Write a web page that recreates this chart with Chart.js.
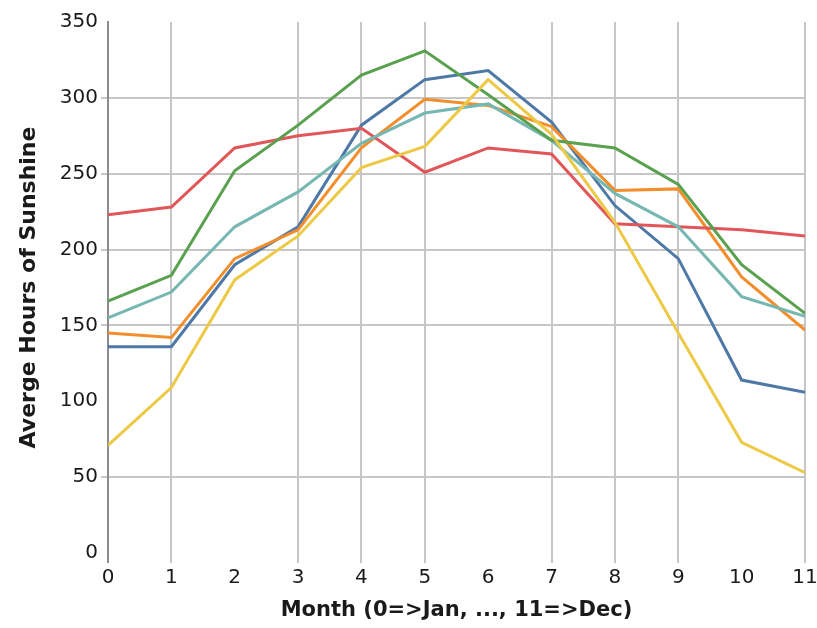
<!DOCTYPE html>
<html>
<head>
<meta charset="utf-8">
<script src="https://cdn.jsdelivr.net/npm/chart.js@4/dist/chart.umd.min.js"></script>
<style>
  html, body { margin: 0; padding: 0; background: #fff; }
  #wrap { width: 817px; height: 628px; }
</style>
</head>
<body>
<div id="wrap"><canvas id="chart" width="817" height="628"></canvas></div>
<script>
// Data
const months = [0, 1, 2, 3, 4, 5, 6, 7, 8, 9, 10, 11];
const blueSeries   = [136, 136, 190, 215, 282, 312, 318, 284, 229, 194, 114, 106];
const orangeSeries = [145, 142, 194, 213, 267, 299, 295, 281, 239, 240, 182, 147];
const redSeries    = [223, 228, 267, 275, 280, 251, 267, 263, 217, 215, 213, 209];
const tealSeries   = [155, 172, 215, 238, 270, 290, 296, 272, 237, 215, 169, 156];
const greenSeries  = [166, 183, 252, 282, 315, 331, 302, 272, 267, 243, 190, 158];
const yellowSeries = [71, 109, 180, 209, 254, 268, 312, 276, 218, 145, 73, 53];
const yTicks = [0, 50, 100, 150, 200, 250, 300, 350];

// gridlines that are absent in the reference
const hiddenX = [2, 6, 10];
const hiddenY = [0, 100, 350];

const Theme = {
    blue: '#4e79a7',
    orange: '#f28e2b',
    red: '#e15759',
    teal: '#76b7b2',
    green: '#59a14f',
    yellow: '#edc948',
    grid: '#c6c6c6',
    axis: '#8c8c8c',
    text: '#1a1a1a'
};

function toPoints(values) {
    return values.map((v, i) => ({ x: months[i], y: v }));
}

function tickValue(ctx) {
    const t = ctx.tick || (ctx.scale && ctx.scale.ticks[ctx.index]);
    return t ? Math.round(t.value) : null;
}

// width 0 skips the line (and its tick mark) entirely
const xGridWidth = ctx => hiddenX.includes(tickValue(ctx)) ? 0 : 2;
const yGridWidth = ctx => hiddenY.includes(tickValue(ctx)) ? 0 : 2;

// first dataset is drawn on top in Chart.js, so list them top-down
const seriesList = [
    { data: yellowSeries, color: Theme.yellow },
    { data: greenSeries,  color: Theme.green },
    { data: tealSeries,   color: Theme.teal },
    { data: redSeries,    color: Theme.red },
    { data: orangeSeries, color: Theme.orange },
    { data: blueSeries,   color: Theme.blue }
];

new Chart(document.getElementById('chart'), {
    type: 'line',
    data: {
        datasets: seriesList.map(s => ({
            data: toPoints(s.data),
            borderColor: s.color,
            backgroundColor: s.color,
            borderWidth: 3,
            pointRadius: 0,
            tension: 0,
            fill: false
        }))
    },
    options: {
        responsive: false,
        animation: false,
        layout: { padding: { top: 22, right: 12, left: 0, bottom: 0 } },
        plugins: { legend: { display: false }, tooltip: { enabled: false } },
        scales: {
            x: {
                type: 'linear',
                min: 0,
                max: 11,
                afterFit: scale => {
                    scale.height = 75;
                    scale.paddingLeft = 0;
                    scale.paddingRight = 0;
                },
                ticks: {
                    stepSize: 1,
                    color: Theme.text,
                    font: { family: 'DejaVu Sans', size: 20 },
                    padding: 3,
                    maxRotation: 0
                },
                grid: {
                    lineWidth: xGridWidth,
                    tickWidth: xGridWidth,
                    tickLength: 10,
                    color: ctx => tickValue(ctx) === 0 ? Theme.axis : Theme.grid
                },
                border: { display: false },
                title: {
                    display: true,
                    text: 'Month (0=>Jan, ..., 11=>Dec)',
                    color: Theme.text,
                    font: { family: 'DejaVu Sans', size: 21, weight: 'bold' },
                    padding: { top: 0, bottom: 5 }
                }
            },
            y: {
                min: 0,
                max: 350,
                afterFit: scale => { scale.width = 108; },
                afterBuildTicks: scale => { scale.ticks = yTicks.map(v => ({ value: v })); },
                ticks: {
                    color: Theme.text,
                    font: { family: 'DejaVu Sans', size: 20 },
                    padding: 3
                },
                grid: {
                    lineWidth: yGridWidth,
                    tickWidth: yGridWidth,
                    tickLength: 7,
                    color: Theme.grid
                },
                border: { display: true, color: Theme.axis, width: 2 },
                title: {
                    display: true,
                    text: 'Averge Hours of Sunshine',
                    color: Theme.text,
                    font: { family: 'DejaVu Sans', size: 22, weight: 'bold' },
                    padding: { top: 16, bottom: 0 }
                }
            }
        }
    }
});
</script>
</body>
</html>
